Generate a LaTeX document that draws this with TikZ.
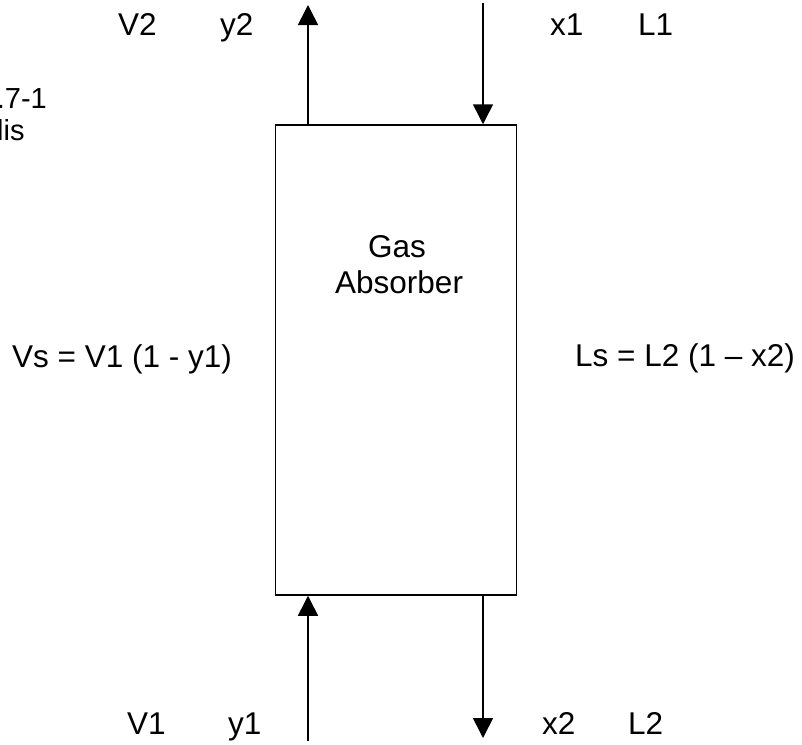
\documentclass[tikz,border=0pt]{standalone}
\usepackage{fontspec}
\setmainfont{Liberation Sans}
\usetikzlibrary{arrows.meta}
\tikzset{
  lbl/.style={font=\fontsize{31.5}{36}\selectfont, inner sep=0pt, anchor=base west},
  small/.style={font=\fontsize{29}{33}\selectfont, inner sep=0pt},
  flow/.style={line width=1.6pt, -{Triangle[length=20pt,width=20pt]}},
  column/.style={draw, line width=1.5pt, minimum width=241pt, minimum height=470pt, inner sep=0pt}
}
\begin{document}
\begin{tikzpicture}[x=1pt,y=-1pt]
\useasboundingbox (0,0) rectangle (802,744);
\node[column] (box) at (396,360) {};
% stream end points
\coordinate (v2end) at (308,5);
\coordinate (l1start) at (483,3);
\coordinate (v1start) at (308,741);
\coordinate (l2end) at (483,738);
\draw[flow] (box.north -| v2end) -- (v2end);
\draw[flow] (l1start) -- (box.north -| l1start);
\draw[flow] (v1start) -- (box.south -| v1start);
\draw[flow] (box.south -| l2end) -- (l2end);
% labels
\node[lbl] (v2) at (118,35) {V2};
\node[lbl] (y2) at (220,35) {y2};
\node[lbl] (x1) at (550,35) {x1};
\node[lbl] (l1) at (638,35) {L1};
\node[lbl] (v1) at (127,734) {V1};
\node[lbl] (y1) at (228,734) {y1};
\node[lbl] (x2) at (542,734) {x2};
\node[lbl] (l2) at (628,734) {L2};
\node[lbl] (vs) at (12,367) {Vs = V1 (1 - y1)};
\node[lbl] (ls) at (575,366) {Ls = L2 (1 – x2)};
\node[lbl] (gas) at (368,257) {Gas};
\node[lbl] (abs) at (335,293) {Absorber};
\node[small, anchor=base east] (fig) at (47,108) {.7-1};
\node[small, anchor=base west] (lis) at (-3,140) {lis};
\end{tikzpicture}
\end{document}
